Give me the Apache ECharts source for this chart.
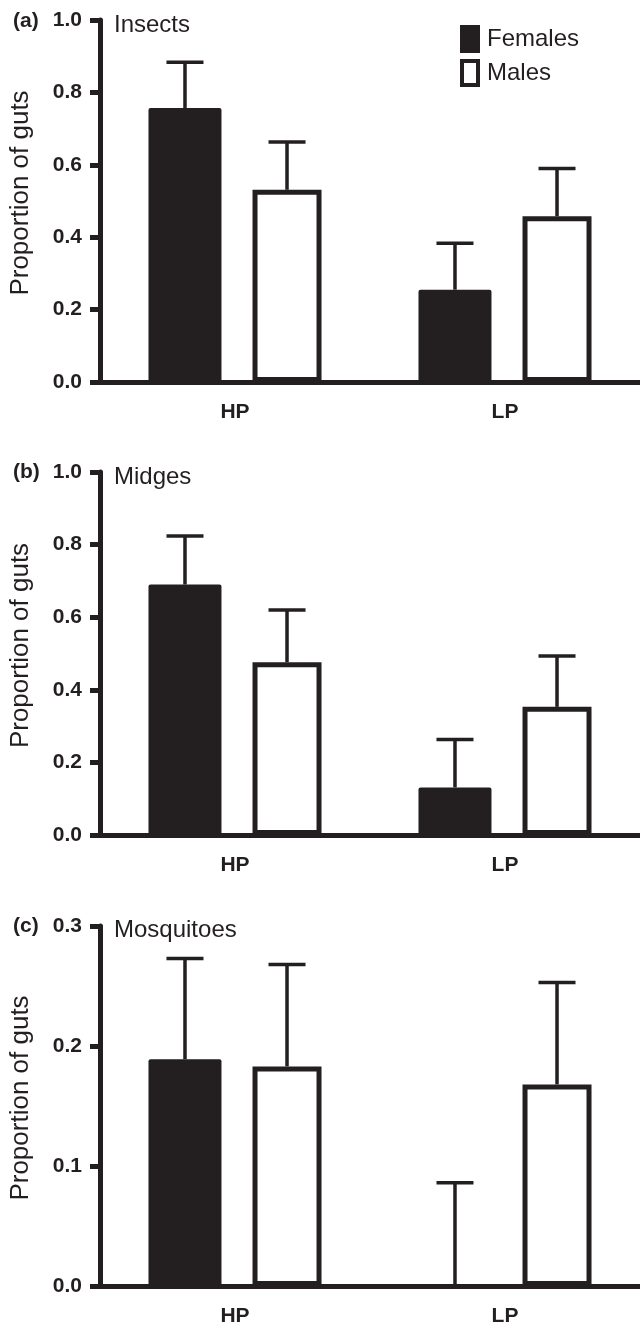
<!DOCTYPE html>
<html>
<head>
<meta charset="utf-8">
<script src="https://cdn.jsdelivr.net/npm/echarts@6/dist/echarts.min.js"></script>
<style>
  html, body { margin: 0; padding: 0; background: #fff; }
  #chart { width: 640px; height: 1327px; }
</style>
</head>
<body>
<div id="chart"></div>
<script>
// ---- data ----
const categories = ['HP', 'LP'];
const panelLetters = ['(a)', '(b)', '(c)'];
const panelTitles = ['Insects', 'Midges', 'Mosquitoes'];
const yMax = [1.0, 1.0, 0.3];
const yInterval = [0.2, 0.2, 0.1];

const insectsFemale = [0.757, 0.255];
const insectsFemaleUpper = [0.883, 0.383];
const insectsMale = [0.531, 0.458];
const insectsMaleUpper = [0.663, 0.59];

const midgesFemale = [0.69, 0.131];
const midgesFemaleUpper = [0.824, 0.263];
const midgesMale = [0.476, 0.353];
const midgesMaleUpper = [0.62, 0.493];

const mosquitoFemale = [0.189, 0];
const mosquitoFemaleUpper = [0.273, 0.086];
const mosquitoMale = [0.183, 0.168];
const mosquitoMaleUpper = [0.268, 0.253];

const femaleValues = [insectsFemale, midgesFemale, mosquitoFemale];
const femaleUpper = [insectsFemaleUpper, midgesFemaleUpper, mosquitoFemaleUpper];
const maleValues = [insectsMale, midgesMale, mosquitoMale];
const maleUpper = [insectsMaleUpper, midgesMaleUpper, mosquitoMaleUpper];

// ---- style / layout ----
const INK = '#231f20';
const FONT = 'Liberation Sans, Arial, Helvetica, sans-serif';
const BAR_F = 73, BAR_M = 69, GAP = 0.425, CAP = 37, ERR_W = 3.5;
const W = BAR_F + BAR_F * GAP + BAR_M;
const OFF_F = -W / 2 + BAR_F / 2;
const OFF_M = W / 2 - BAR_M / 2;
const grids = [
  { left: 99, right: 0, top: 20, height: 362 },
  { left: 99, right: 0, top: 472, height: 363 },
  { left: 99, right: 0, top: 926, height: 361.5 }
];
const letterTops = [10.5, 461.5, 916];
const titleTops = [13.5, 465, 918.5];

const chart = echarts.init(document.getElementById('chart'), null, { renderer: 'canvas' });

function errSeries(i, values, upper, offset) {
  return {
    type: 'custom',
    xAxisIndex: i, yAxisIndex: i,
    z: 3,
    silent: true,
    data: values.map((v, k) => [k, v, upper[k]]),
    renderItem: function (params, api) {
      const base = api.coord([api.value(0), api.value(1)]);
      const top = api.coord([api.value(0), api.value(2)]);
      const cx = base[0] + offset;
      return {
        type: 'group',
        children: [
          { type: 'line', shape: { x1: cx, y1: base[1], x2: cx, y2: top[1] }, style: { stroke: INK, lineWidth: ERR_W } },
          { type: 'line', shape: { x1: cx - CAP / 2, y1: top[1], x2: cx + CAP / 2, y2: top[1] }, style: { stroke: INK, lineWidth: ERR_W } }
        ]
      };
    }
  };
}

const xAxes = [], yAxes = [], series = [], titles = [];
for (let i = 0; i < 3; i++) {
  xAxes.push({
    type: 'category', gridIndex: i, data: categories,
    axisLine: { lineStyle: { color: INK, width: 5 } },
    axisTick: { alignWithLabel: true, length: 9, lineStyle: { color: INK, width: 5 } },
    axisLabel: { color: INK, fontFamily: FONT, fontWeight: 'bold', fontSize: 21, margin: 20 },
    splitLine: { show: false }
  });
  yAxes.push({
    type: 'value', gridIndex: i, min: 0, max: yMax[i], interval: yInterval[i],
    name: 'Proportion of guts', nameLocation: 'middle', nameGap: 66, nameRotate: 90,
    nameTextStyle: { color: INK, fontFamily: FONT, fontSize: 26, padding: [0, 0, 0, 16] },
    axisLine: { show: true, lineStyle: { color: INK, width: 5 } },
    axisTick: { show: true, length: 10, lineStyle: { color: INK, width: 5 } },
    axisLabel: { color: INK, fontFamily: FONT, fontWeight: 'bold', fontSize: 21, margin: 18,
      formatter: v => v.toFixed(1) },
    splitLine: { show: false }
  });
  series.push({
    name: 'Females', type: 'bar', xAxisIndex: i, yAxisIndex: i,
    data: femaleValues[i], barWidth: BAR_F, barGap: (GAP * 100) + '%',
    itemStyle: { color: INK, borderRadius: [2, 2, 0, 0] }, silent: true
  });
  series.push({
    name: 'Males', type: 'bar', xAxisIndex: i, yAxisIndex: i,
    data: maleValues[i], barWidth: BAR_M, barGap: (GAP * 100) + '%',
    itemStyle: { color: '#ffffff', borderColor: INK, borderWidth: 5 }, silent: true
  });
  series.push(errSeries(i, femaleValues[i], femaleUpper[i], OFF_F));
  series.push(errSeries(i, maleValues[i], maleUpper[i], OFF_M));
  titles.push({
    text: panelLetters[i], left: 13, top: letterTops[i], padding: 0,
    textStyle: { color: INK, fontFamily: FONT, fontWeight: 'bold', fontSize: 21, lineHeight: 21 }
  });
  titles.push({
    text: panelTitles[i], left: 114, top: titleTops[i], padding: 0,
    textStyle: { color: INK, fontFamily: FONT, fontWeight: 'normal', fontSize: 24, lineHeight: 24 }
  });
}

chart.setOption({
  animation: false,
  backgroundColor: '#ffffff',
  title: titles,
  legend: {
    orient: 'vertical', left: 460, top: 25, padding: 0,
    itemWidth: 16, itemHeight: 24, itemGap: 6, selectedMode: false,
    icon: 'rect',
    textStyle: { color: INK, fontFamily: FONT, fontSize: 24, lineHeight: 24, padding: [0, 0, 0, 4] },
    data: [
      { name: 'Females', itemStyle: { color: INK, borderColor: INK, borderWidth: 4 } },
      { name: 'Males', itemStyle: { color: '#ffffff', borderColor: INK, borderWidth: 4 } }
    ]
  },
  grid: grids,
  xAxis: xAxes,
  yAxis: yAxes,
  series: series
});
</script>
</body>
</html>
